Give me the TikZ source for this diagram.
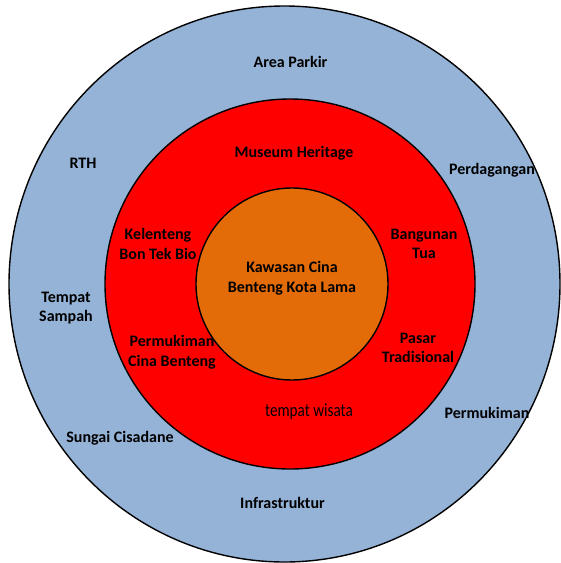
\documentclass[tikz,border=0pt]{standalone}
\usepackage{fontspec}
\setmainfont{Carlito}
\newfontfamily\narrowfont[FakeStretch=0.82]{Carlito}
\usepackage{tikz}
\usetikzlibrary{positioning}
\definecolor{ringblue}{HTML}{95B3D7}
\definecolor{ringred}{HTML}{FF0000}
\definecolor{coreorange}{HTML}{E36C09}
\tikzset{
  lbl/.style={align=center, font=\fontsize{16}{19.5}\selectfont\bfseries, inner sep=0pt},
  lblthin/.style={align=center, font=\narrowfont\fontsize{18.5}{19.5}\selectfont, inner sep=0pt},
  ring/.style={draw=black, line width=1.4pt}
}
\begin{document}
\begin{tikzpicture}[x=1pt,y=-1pt]
\useasboundingbox (0,0) rectangle (561,563);
% rings
\draw[ring, fill=ringblue] (284.5,284) ellipse [x radius=275.5pt, y radius=278pt];
\draw[ring, fill=ringred] (290,284) circle [radius=185pt];
\draw[ring, fill=coreorange] (292,284) circle [radius=96pt];
% outer ring
\node[lbl] (parkir)    at (290.5,62) {Area Parkir};
\node[lbl] (rth)       at (83,163)  {RTH};
\node[lbl] (dagang)    at (492,170) {Perdagangan};
\node[lbl] (sampah)    at (66,308)  {Tempat\\Sampah};
\node[lbl] (mukimluar) at (487,413) {Permukiman};
\node[lbl] (cisadane)  at (120,438) {Sungai Cisadane};
\node[lbl] (infra)     at (282.5,503) {Infrastruktur};
% middle ring
\node[lbl] (museum)    at (294,153) {Museum Heritage};
\node[lbl] (klenteng)  at (158,244) {Kelenteng\\Bon Tek Bio};
\node[lbl] (bangunan)  at (424,244) {Bangunan\\Tua};
\node[lbl] (mukimcina) at (172,352) {Permukiman\\Cina Benteng};
\node[lbl] (pasar)     at (418,348) {Pasar\\Tradisional};
\node[lblthin] (wisata) at (309,412) {tempat wisata};
% core
\node[lbl] (kawasan)   at (292,278) {Kawasan Cina\\Benteng Kota Lama};
\end{tikzpicture}
\end{document}
